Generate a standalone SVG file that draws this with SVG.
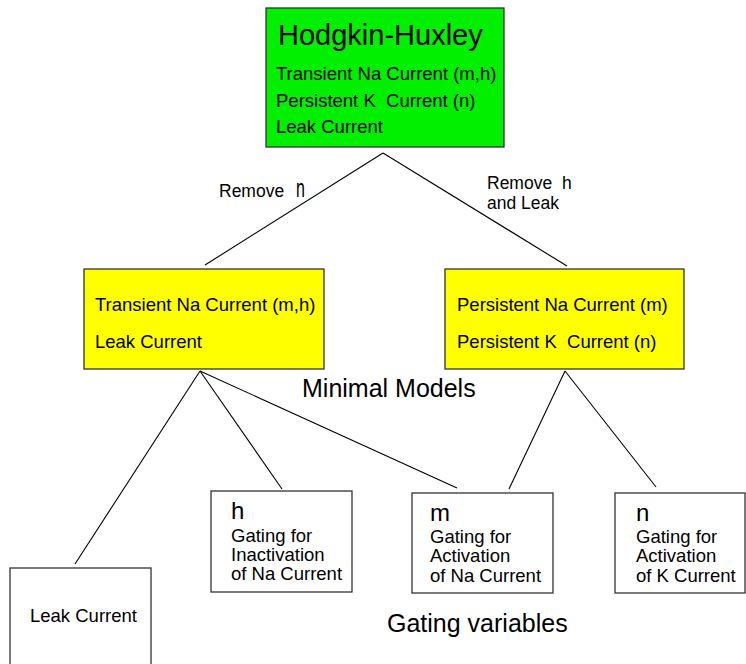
<svg xmlns="http://www.w3.org/2000/svg" width="746" height="664" viewBox="0 0 746 664">
<style>
text { font-family: "Liberation Sans", Arial, sans-serif; fill: #000; }
.box { stroke: #333; stroke-width: 1.3; }
.t { font-size: 18.5px; }
.s { font-size: 17.5px; }
.big { font-size: 24px; }
.title { font-size: 29px; }
.lbl { font-size: 25px; }
.conn line { stroke: #000; stroke-width: 1.1; }
</style>
<rect width="746" height="664" fill="#fff"/>
<g class="conn" id="connectors">
  <line x1="383" y1="153" x2="205" y2="265"/>
  <line x1="383" y1="153" x2="567" y2="266"/>
  <line x1="200" y1="371" x2="75" y2="564"/>
  <line x1="200" y1="371" x2="282" y2="489"/>
  <line x1="200" y1="371" x2="457" y2="488"/>
  <line x1="565" y1="371" x2="509" y2="489"/>
  <line x1="565" y1="371" x2="656" y2="487"/>
</g>
<g id="hh">
  <rect class="box" x="266" y="8" width="238" height="139" fill="#00f000"/>
  <text class="title" x="278" y="45">Hodgkin-Huxley</text>
  <text class="t" x="276" y="80">Transient Na Current (m,h)</text>
  <text class="t" x="276" y="106.5" xml:space="preserve">Persistent K  Current (n)</text>
  <text class="t" x="276" y="132.5">Leak Current</text>
</g>
<g id="remove-n">
  <text class="s" x="219" y="197">Remove</text>
  <text transform="translate(296,197) scale(1,1.65)" style="font-size:16px">n</text>
</g>
<g id="remove-h">
  <text class="s" x="487" y="189">Remove</text>
  <text class="s" x="562" y="189">h</text>
  <text class="s" x="487" y="209">and Leak</text>
</g>
<g id="min-na">
  <rect class="box" x="84" y="269" width="240" height="100" fill="#ffff00"/>
  <text class="t" x="95" y="311">Transient Na Current (m,h)</text>
  <text class="t" x="95" y="348">Leak Current</text>
</g>
<g id="min-k">
  <rect class="box" x="445" y="269" width="239" height="100" fill="#ffff00"/>
  <text class="t" x="457" y="311">Persistent Na Current (m)</text>
  <text class="t" x="457" y="348" xml:space="preserve">Persistent K  Current (n)</text>
</g>
<g id="minimal-models">
  <text class="lbl" x="302" y="397">Minimal Models</text>
</g>
<g id="leak">
  <rect class="box" x="10" y="568" width="141" height="110" fill="#fff"/>
  <text class="t" x="30" y="622">Leak Current</text>
</g>
<g id="gate-h">
  <rect class="box" x="211" y="491" width="141" height="101" fill="#fff"/>
  <text class="big" x="231" y="519">h</text>
  <text class="t" x="231" y="542">Gating for</text>
  <text class="t" x="231" y="561">Inactivation</text>
  <text class="t" x="231" y="580">of Na Current</text>
</g>
<g id="gate-m">
  <rect class="box" x="412" y="493" width="141" height="100" fill="#fff"/>
  <text class="big" x="430" y="521">m</text>
  <text class="t" x="430" y="543">Gating for</text>
  <text class="t" x="430" y="562">Activation</text>
  <text class="t" x="430" y="582">of Na Current</text>
</g>
<g id="gate-n">
  <rect class="box" x="615" y="493" width="130" height="100" fill="#fff"/>
  <text class="big" x="636" y="521">n</text>
  <text class="t" x="636" y="543">Gating for</text>
  <text class="t" x="636" y="562">Activation</text>
  <text class="t" x="636" y="582">of K Current</text>
</g>
<g id="gating-variables">
  <text class="lbl" x="387" y="632">Gating variables</text>
</g>
</svg>
